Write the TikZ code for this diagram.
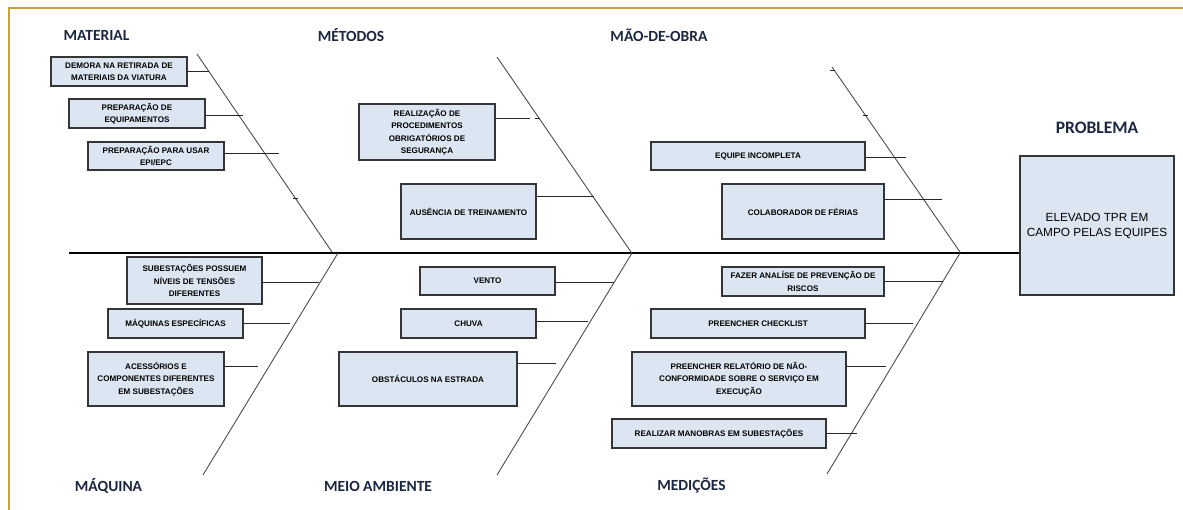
\documentclass[tikz,border=0pt]{standalone}
\usepackage{fontspec}
\setmainfont{Liberation Sans}
\newfontfamily\catfont{Carlito}
\definecolor{caixa}{HTML}{DCE6F2}
\definecolor{borda}{HTML}{353535}
\definecolor{titulo}{HTML}{1B2640}
\definecolor{moldura}{HTML}{C9A33A}
\tikzset{
  causa/.style={draw=borda, line width=1.3pt, fill=caixa, inner sep=0pt, align=center,
    font=\fontsize{8.1}{12.5}\selectfont\bfseries, text=black},
  categoria/.style={font=\catfont\bfseries\fontsize{15.5}{15.5}\selectfont, text=titulo},
  osso/.style={draw=black!70, line width=0.9pt},
  ramo/.style={draw=black!85, line width=0.9pt},
  espinha/.style={draw=black, line width=2.2pt},
}
\begin{document}
\begin{tikzpicture}[x=1pt,y=-1pt]
  \useasboundingbox (0,0) rectangle (1183,510);
  \draw[moldura, line width=1.5pt] (9,510) -- (9,8) -- (1183,8);

  % categorias
  \node[categoria] (cMat) at (96.5,35) {MATERIAL};
  \node[categoria] (cMet) at (351,35) {MÉTODOS};
  \node[categoria] (cMao) at (659,35) {MÃO-DE-OBRA};
  \node[categoria] (cMaq) at (108.5,486) {MÁQUINA};
  \node[categoria] (cAmb) at (378,486) {MEIO AMBIENTE};
  \node[categoria] (cMed) at (691.5,485) {MEDIÇÕES};
  \node[categoria, font=\catfont\bfseries\fontsize{17.5}{17.5}\selectfont] (cProb) at (1097,128) {PROBLEMA};

  % problema
  \node[causa, minimum width=154, minimum height=139, font=\fontsize{11.8}{15}\selectfont]
    (prob) at (1097,225.5) {ELEVADO TPR EM\\CAMPO PELAS EQUIPES};

  % espinha e ossos
  \coordinate (esp) at (69,253);
  \draw[espinha] (esp) -- (esp -| prob.west);
  \coordinate (a1) at (197,54);  \coordinate (a2) at (332,252);
  \coordinate (b1) at (497,57);  \coordinate (b2) at (631,252);
  \coordinate (c1) at (832,67);  \coordinate (c2) at (960,252);
  \coordinate (d1) at (338,253); \coordinate (d2) at (203,475);
  \coordinate (e1) at (632,253); \coordinate (e2) at (497,475);
  \coordinate (f1) at (960,253); \coordinate (f2) at (827,474);
  \draw[osso] (a1) -- (a2);
  \draw[osso] (b1) -- (b2);
  \draw[osso] (c1) -- (c2);
  \draw[osso] (d1) -- (d2);
  \draw[osso] (e1) -- (e2);
  \draw[osso] (f1) -- (f2);

  % material
  \node[causa, minimum width=136, minimum height=29] (dem) at (119,71.5) {DEMORA NA RETIRADA DE\\MATERIAIS DA VIATURA};
  \node[causa, minimum width=136, minimum height=29] (equip) at (137,113.5) {PREPARAÇÃO DE\\EQUIPAMENTOS};
  \node[causa, minimum width=136, minimum height=28] (epi) at (156,156) {PREPARAÇÃO PARA USAR\\EPI/EPC};
  \draw[ramo] (dem.east) -- ++(21,0);
  \draw[ramo] ([yshift=-1.5pt]equip.east) -- ++(37,0);
  \draw[ramo] ([yshift=3pt]epi.east) -- ++(54,0);

  % metodos
  \node[causa, minimum width=136, minimum height=56] (proc) at (427,132) {REALIZAÇÃO DE\\PROCEDIMENTOS\\OBRIGATÓRIOS DE\\SEGURANÇA};
  \node[causa, minimum width=135, minimum height=55] (trein) at (468.5,211.5) {AUSÊNCIA DE TREINAMENTO};
  \draw[ramo] ([yshift=14pt]proc.east) -- ++(34,0);
  \draw[ramo] ([yshift=15.5pt]trein.east) -- ++(57,0);

  % mao-de-obra
  \node[causa, minimum width=214, minimum height=28] (equipe) at (758,156) {EQUIPE INCOMPLETA};
  \node[causa, minimum width=162, minimum height=55] (ferias) at (803,211.5) {COLABORADOR DE FÉRIAS};
  \draw[ramo] ([yshift=-1pt]equipe.east) -- ++(40,0);
  \draw[ramo] ([yshift=12.5pt]ferias.east) -- ++(57,0);

  % maquina
  \node[causa, minimum width=135, minimum height=47] (sub) at (194.5,280.5) {SUBESTAÇÕES POSSUEM\\NÍVEIS DE TENSÕES\\DIFERENTES};
  \node[causa, minimum width=135, minimum height=29] (maq) at (175.5,323.5) {MÁQUINAS ESPECÍFICAS};
  \node[causa, minimum width=136, minimum height=54] (aces) at (156,379) {ACESSÓRIOS E\\COMPONENTES DIFERENTES\\EM SUBESTAÇÕES};
  \draw[ramo] ([yshift=-1.5pt]sub.east) -- ++(56,0);
  \draw[ramo] (maq.east) -- ++(46,0);
  \draw[ramo] ([yshift=13pt]aces.east) -- ++(33,0);

  % meio ambiente
  \node[causa, minimum width=135, minimum height=28] (vento) at (487.5,281) {VENTO};
  \node[causa, minimum width=135, minimum height=29] (chuva) at (468.5,323.5) {CHUVA};
  \node[causa, minimum width=178, minimum height=54] (obst) at (428,379) {OBSTÁCULOS NA ESTRADA};
  \draw[ramo] ([yshift=-1pt]vento.east) -- ++(58,0);
  \draw[ramo] ([yshift=2.5pt]chuva.east) -- ++(51,0);
  \draw[ramo] ([yshift=16pt]obst.east) -- ++(38,0);

  % medicoes
  \node[causa, minimum width=162, minimum height=29] (riscos) at (803,281.5) {FAZER ANALÍSE DE PREVENÇÃO DE\\RISCOS};
  \node[causa, minimum width=214, minimum height=29] (check) at (758,323.5) {PREENCHER CHECKLIST};
  \node[causa, minimum width=214, minimum height=54] (relat) at (739,379) {PREENCHER RELATÓRIO DE NÃO-\\CONFORMIDADE SOBRE O SERVIÇO EM\\EXECUÇÃO};
  \node[causa, minimum width=214, minimum height=29] (manob) at (719,433.5) {REALIZAR MANOBRAS EM SUBESTAÇÕES};
  \draw[ramo] (riscos.east) -- ++(58,0);
  \draw[ramo] (check.east) -- ++(47,0);
  \draw[ramo] ([yshift=13pt]relat.east) -- ++(39,0);
  \draw[ramo] (manob.east) -- ++(30,0);

  % marcas soltas nos ossos
  \foreach \x/\y in {295/198, 537/118, 832/70, 865/115}
    \draw[ramo] (\x-2,\y) -- (\x+3,\y);
\end{tikzpicture}
\end{document}
